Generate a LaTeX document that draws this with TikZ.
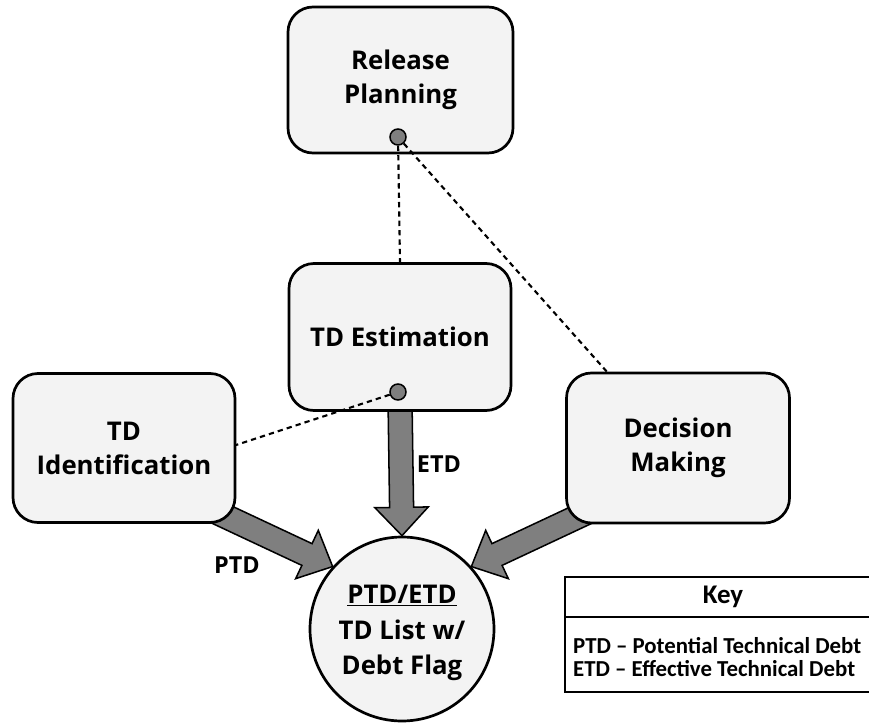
\documentclass[tikz,border=0pt]{standalone}
\usepackage{fontspec}
\setmainfont{Open Sans}
\newfontfamily\keyfont{Carlito}
\usetikzlibrary{calc}
\definecolor{boxfill}{HTML}{F3F3F3}
\definecolor{arrowfill}{HTML}{7F7F7F}
\tikzset{
  procbox/.style={draw=black, line width=2.3pt, fill=boxfill, rounded corners=7.5mm,
    minimum width=66.6mm, minimum height=44.4mm, align=center,
    font=\fontsize{22}{29}\selectfont\bfseries},
  dotlink/.style={draw=black, line width=1.8pt, dash pattern=on 4.5pt off 3.5pt},
  knob/.style={circle, draw=black, line width=1.3pt, fill=arrowfill, minimum size=4.8mm, inner sep=0pt},
  fatarrowstyle/.style={draw=black, line width=1.3pt, fill=arrowfill, line join=miter},
  flowlabel/.style={font=\fontsize{20}{24}\selectfont\bfseries},
}
\newcommand\fatarrow[2]{%
  \path ($(#2)!8.5mm!(#1)$) coordinate (fa-h);
  \path[fatarrowstyle] ($(#1)!3.6mm!90:(#2)$) -- ($(fa-h)!3.6mm!90:(#2)$) -- ($(fa-h)!8mm!90:(#2)$) -- (#2)
     -- ($(fa-h)!8mm!-90:(#2)$) -- ($(fa-h)!3.6mm!-90:(#2)$) -- ($(#1)!3.6mm!-90:(#2)$) -- cycle;}
\begin{document}
\begin{tikzpicture}[x=0.3mm, y=-0.3mm]
\useasboundingbox (0,0) rectangle (869,723);
% list circle
\node[circle, draw=black, line width=2.3pt, fill=boxfill, minimum size=55.2mm] (list) at (402,629) {};
\node[align=center, font=\fontsize{22}{30}\selectfont\bfseries] (listtext) at (402,633) {\underline{PTD/ETD}\\TD List w/\\Debt Flag};
% arrow start points
\coordinate (idout) at (212,510);
\coordinate (dmout) at (592,510);
\coordinate (estout) at (400,400);
\fatarrow{idout}{list.138}
\fatarrow{dmout}{list.42}
\fatarrow{estout}{list.north}
% boxes
\node[procbox, minimum width=67.5mm, minimum height=43.8mm] (rel) at (400.5,80) {Release\\Planning};
\node[procbox, minimum height=44.1mm] (est) at (400,337) {TD Estimation};
\node[procbox, minimum height=44.7mm] (ident) at (124,448) {TD\\Identification};
\node[procbox, minimum width=66.9mm, minimum height=45mm] (dec) at (678,448) {Decision\\Making};
% knobs
\node[knob] (relknob) at (398,137) {};
\node[knob] (estknob) at (398,392) {};
% dotted links
\draw[dotlink] (relknob) -- (est.north);
\coordinate (decin) at (608,373);
\draw[dotlink] (relknob) -- (decin);
\coordinate (identin) at (236,445);
\draw[dotlink] (estknob) -- (identin);
% labels
\node[flowlabel] (ptdlab) at (237,565) {PTD};
\node[flowlabel] (etdlab) at (439,464) {ETD};
% key
\draw[line width=1.4pt] (565,577) rectangle (875,692);
\draw[line width=1.4pt] (565,617) -- (875,617);
\node[font=\keyfont\fontsize{23}{26}\selectfont\bfseries] (keyhead) at (723,597) {Key};
\node[font=\keyfont\fontsize{19.5}{19.5}\selectfont\bfseries, align=left, anchor=west] (keytext) at (569,657)
  {PTD – Potential Technical Debt\\ETD – Effective Technical Debt};
\end{tikzpicture}
\end{document}
